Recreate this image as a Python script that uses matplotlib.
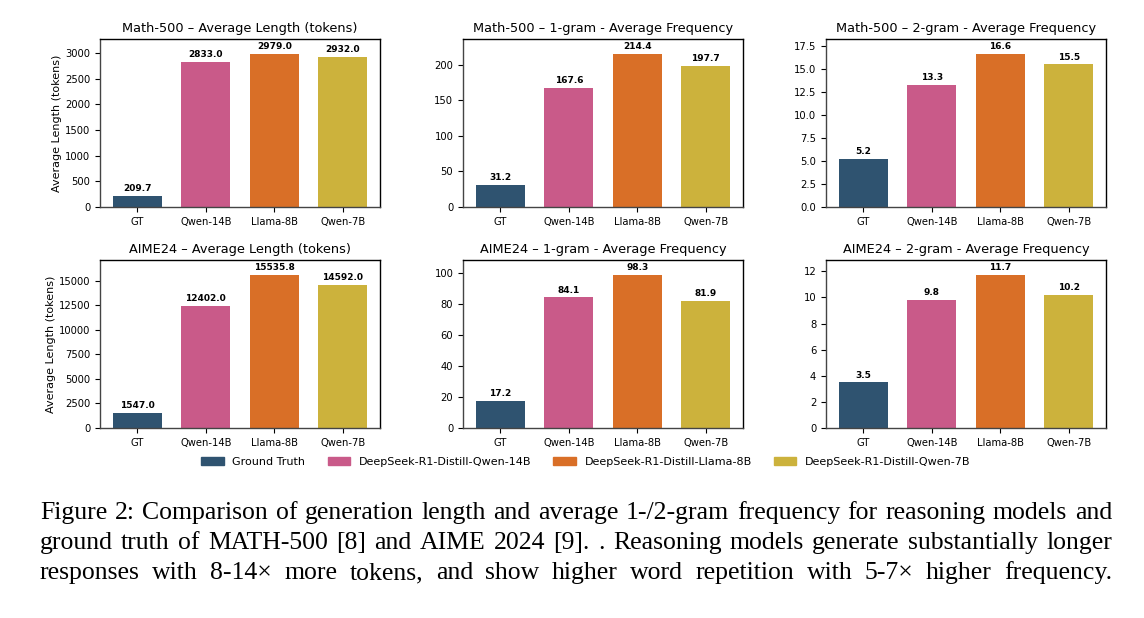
import matplotlib
matplotlib.use("Agg")
import matplotlib.pyplot as plt
from matplotlib.patches import Patch

categories = ["GT", "Qwen-14B", "Llama-8B", "Qwen-7B"]
legend_labels = ["Ground Truth", "DeepSeek-R1-Distill-Qwen-14B",
                 "DeepSeek-R1-Distill-Llama-8B", "DeepSeek-R1-Distill-Qwen-7B"]
colors = ["#2f5370", "#c95a89", "#d96f27", "#ccb23c"]

math_len = [209.7, 2833.0, 2979.0, 2932.0]
math_1g = [31.2, 167.6, 214.4, 197.7]
math_2g = [5.2, 13.3, 16.6, 15.5]
aime_len = [1547.0, 12402.0, 15535.8, 14592.0]
aime_1g = [17.2, 84.1, 98.3, 81.9]
aime_2g = [3.5, 9.8, 11.7, 10.2]

titles = [
    "Math-500 \u2013 Average Length (tokens)",
    "Math-500 \u2013 1-gram - Average Frequency",
    "Math-500 \u2013 2-gram - Average Frequency",
    "AIME24 \u2013 Average Length (tokens)",
    "AIME24 \u2013 1-gram - Average Frequency",
    "AIME24 \u2013 2-gram - Average Frequency",
]
series = [math_len, math_1g, math_2g, aime_len, aime_1g, aime_2g]
ylabels = ["Average Length (tokens)", None, None, "Average Length (tokens)", None, None]

caption_lines = [
    "Figure 2: Comparison of generation length and average 1-/2-gram frequency for reasoning models and",
    "ground truth of MATH-500 [8] and AIME 2024 [9]. . Reasoning models generate substantially longer",
    "responses with 8-14\u00d7 more tokens, and show higher word repetition with 5-7\u00d7 higher frequency.",
]

W, H = 1144, 618
fig = plt.figure(figsize=(W / 100, H / 100), dpi=100)

lefts = [100, 463, 826]
tops = [39, 260]
aw, ah = 280, 168

for i, (vals, title, yl) in enumerate(zip(series, titles, ylabels)):
    r, c = divmod(i, 3)
    ax = fig.add_axes([lefts[c] / W, 1 - (tops[r] + ah) / H, aw / W, ah / H])
    bars = ax.bar(categories, vals, color=colors, width=0.72)
    ax.set_ylim(0, max(vals) * 1.1)
    ax.set_title(title, fontsize=9.3, pad=5)
    if yl:
        ax.set_ylabel(yl, fontsize=8, labelpad=2)
    ax.tick_params(labelsize=7.2, length=3.5)
    for b, v in zip(bars, vals):
        ax.annotate(f"{v:.1f}", (b.get_x() + b.get_width() / 2, v),
                    xytext=(0, 2), textcoords="offset points",
                    ha="center", va="bottom", fontsize=6.5, fontweight="bold")
    for s in ax.spines.values():
        s.set_linewidth(1.0)
    ax.spines["left"].set_color("#444444")
    ax.spines["bottom"].set_color("#444444")

handles = [Patch(color=col, label=lab) for col, lab in zip(colors, legend_labels)]
fig.legend(handles=handles, loc="center", bbox_to_anchor=(586 / W, 1 - 462 / H),
           ncol=4, frameon=False, fontsize=8)

# justified caption: pick font size so the longest line fits naturally
renderer = fig.canvas.get_renderer()
x0, x1 = 40, 1112
baselines = [519, 549, 579]
probe = fig.text(0, 0, caption_lines[0], fontsize=10, family="Liberation Serif")
nat = probe.get_window_extent(renderer).width
probe.remove()
cap_fs = 10 * (x1 - x0) / nat * 0.985
for line, yb in zip(caption_lines, baselines):
    words = line.split(" ")
    texts = []
    for w in words:
        t = fig.text(0, 1 - yb / H, w, fontsize=cap_fs, family="Liberation Serif",
                     va="baseline", ha="left")
        texts.append(t)
    widths = [t.get_window_extent(renderer).width for t in texts]
    gap = (x1 - x0 - sum(widths)) / (len(words) - 1)
    x = x0
    for t, wd in zip(texts, widths):
        t.set_x(x / W)
        x += wd + gap

fig.savefig("out.png", dpi=100)
